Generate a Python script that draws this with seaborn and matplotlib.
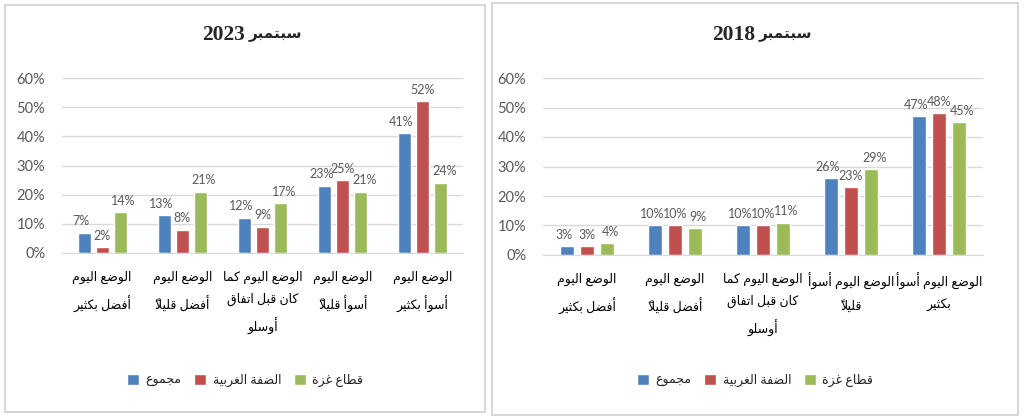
import pandas as pd
import matplotlib.pyplot as plt
import seaborn as sns
from matplotlib.patches import Rectangle, Patch

categories = [
    "الوضع اليوم أفضل بكثير",
    "الوضع اليوم أفضل قليلاً",
    "الوضع اليوم كما كان قبل اتفاق أوسلو",
    "الوضع اليوم أسوأ قليلاً",
    "الوضع اليوم أسوأ بكثير",
]
series = ["مجموع", "الضفة الغربية", "قطاع غزة"]
colors = ["#4F81BD", "#C0504D", "#9BBB59"]

total_2023 = [7, 13, 12, 23, 41]
west_bank_2023 = [2, 8, 9, 25, 52]
gaza_2023 = [14, 21, 17, 21, 24]

total_2018 = [3, 10, 10, 26, 47]
west_bank_2018 = [3, 10, 10, 23, 48]
gaza_2018 = [4, 9, 11, 29, 45]

ticks_2023 = [
    "الوضع اليوم\nأفضل بكثير",
    "الوضع اليوم\nأفضل قليلاً",
    "الوضع اليوم كما\nكان قبل اتفاق\nأوسلو",
    "الوضع اليوم\nأسوأ قليلاً",
    "الوضع اليوم\nأسوأ بكثير",
]
ticks_2018 = [
    "الوضع اليوم\nأفضل بكثير",
    "الوضع اليوم\nأفضل قليلاً",
    "الوضع اليوم كما\nكان قبل اتفاق\nأوسلو",
    "الوضع اليوم أسوأ\nقليلاً",
    "الوضع اليوم أسوأ\nبكثير",
]

# matplotlib does no arabic shaping or bidi, so pick the joined forms by hand
# isolated, final, initial, medial
FORMS = {
    'ا': ('\uFE8D', '\uFE8E', None, None),
    'أ': ('\uFE83', '\uFE84', None, None),
    'ب': ('\uFE8F', '\uFE90', '\uFE91', '\uFE92'),
    'ة': ('\uFE93', '\uFE94', None, None),
    'ت': ('\uFE95', '\uFE96', '\uFE97', '\uFE98'),
    'ث': ('\uFE99', '\uFE9A', '\uFE9B', '\uFE9C'),
    'ج': ('\uFE9D', '\uFE9E', '\uFE9F', '\uFEA0'),
    'ر': ('\uFEAD', '\uFEAE', None, None),
    'ز': ('\uFEAF', '\uFEB0', None, None),
    'س': ('\uFEB1', '\uFEB2', '\uFEB3', '\uFEB4'),
    'ض': ('\uFEBD', '\uFEBE', '\uFEBF', '\uFEC0'),
    'ط': ('\uFEC1', '\uFEC2', '\uFEC3', '\uFEC4'),
    'ع': ('\uFEC9', '\uFECA', '\uFECB', '\uFECC'),
    'غ': ('\uFECD', '\uFECE', '\uFECF', '\uFED0'),
    'ف': ('\uFED1', '\uFED2', '\uFED3', '\uFED4'),
    'ق': ('\uFED5', '\uFED6', '\uFED7', '\uFED8'),
    'ك': ('\uFED9', '\uFEDA', '\uFEDB', '\uFEDC'),
    'ل': ('\uFEDD', '\uFEDE', '\uFEDF', '\uFEE0'),
    'م': ('\uFEE1', '\uFEE2', '\uFEE3', '\uFEE4'),
    'ن': ('\uFEE5', '\uFEE6', '\uFEE7', '\uFEE8'),
    'و': ('\uFEED', '\uFEEE', None, None),
    'ي': ('\uFEF1', '\uFEF2', '\uFEF3', '\uFEF4'),
}
LAM_ALEF = {'ا': ('\uFEFB', '\uFEFC', None, None),
            'أ': ('\uFEF7', '\uFEF8', None, None)}
MARKS = set('\u064B\u064C\u064D\u064E\u064F\u0650\u0651\u0652')


def shape(text):
    lines = []
    for line in text.split('\n'):
        clusters = []
        i = 0
        while i < len(line):
            c = line[i]
            if c in MARKS and clusters:
                clusters[-1][2] += c
            elif c == 'ل' and line[i + 1:i + 2] in LAM_ALEF:
                clusters.append([LAM_ALEF[line[i + 1]], c, ''])
                i += 1
            else:
                clusters.append([FORMS.get(c), c, ''])
            i += 1
        glyphs = []
        for k, (forms, c, marks) in enumerate(clusters):
            if forms is None:
                glyphs.append(marks + c)
                continue
            prev = clusters[k - 1][0] if k > 0 else None
            nxt = clusters[k + 1][0] if k + 1 < len(clusters) else None
            jp = prev is not None and prev[2] is not None
            jn = nxt is not None and forms[2] is not None
            if jp and jn:
                g = forms[3]
            elif jp:
                g = forms[1]
            elif jn:
                g = forms[2]
            else:
                g = forms[0]
            # marks go first: drawn left to right they then sit over the base
            glyphs.append(marks + g)
        lines.append(''.join(reversed(glyphs)))
    return '\n'.join(lines)


sns.set_style("white")
plt.rcParams['font.family'] = ['Lato', 'DejaVu Sans']

fig = plt.figure(figsize=(10.24, 4.2), dpi=100)

# panel frames
fig.patches.append(Rectangle((5 / 1024, 1 - 412 / 420), 480 / 1024, 407 / 420,
                             transform=fig.transFigure, fill=False,
                             edgecolor="#D0D0D0", lw=1.2))
fig.patches.append(Rectangle((492 / 1024, 1 - 415 / 420), 526 / 1024, 412 / 420,
                             transform=fig.transFigure, fill=False,
                             edgecolor="#D0D0D0", lw=1.2))

panels = [
    ("2023", [total_2023, west_bank_2023, gaza_2023], ticks_2023,
     [62 / 1024, 1 - 253 / 420, 401 / 1024, 175 / 420], 245 / 1024),
    ("2018", [total_2018, west_bank_2018, gaza_2018], ticks_2018,
     [543 / 1024, 1 - 255 / 420, 440 / 1024, 177 / 420], 755 / 1024),
]

for year, vals, ticks, rect, cx in panels:
    rows = []
    for s, v in zip(series, vals):
        for c, x in zip(categories, v):
            rows.append({"category": c, "series": s, "value": x})
    df = pd.DataFrame(rows)

    ax = fig.add_axes(rect)
    sns.barplot(data=df, x="category", y="value", hue="series",
                order=categories, hue_order=series, palette=colors,
                width=0.675, gap=0.28, saturation=1, legend=False, ax=ax)

    for cont, dx in zip(ax.containers, [-2.5, 0, 2.5]):
        anns = ax.bar_label(cont, labels=[f"{b.get_height():.0f}%" for b in cont],
                            padding=4, fontsize=9, color="#595959")
        for a in anns:
            a.xyann = (dx, a.xyann[1])

    ax.set_ylim(0, 60)
    ax.set_yticks(range(0, 61, 10))
    ax.set_yticklabels([f"{t}%" for t in range(0, 61, 10)],
                       fontsize=10.5, color="#595959")
    ax.set_xticks(range(len(categories)))
    ax.set_xticklabels([shape(t) for t in ticks], fontsize=9,
                       color="black", linespacing=1.85)
    ax.tick_params(axis="y", length=0, pad=12)
    ax.tick_params(axis="x", length=0, pad=13)
    ax.set_xlabel("")
    ax.set_ylabel("")
    ax.grid(axis="y", color="#D9D9D9", lw=1)
    ax.set_axisbelow(True)
    for side in ["top", "right", "left"]:
        ax.spines[side].set_visible(False)
    ax.spines["bottom"].set_color("#D9D9D9")

    fig.text(cx, 1 - 35 / 420, year, ha="right", va="center",
             fontsize=15.5, fontweight="bold", family="Liberation Serif")
    fig.text(cx + 4 / 1024, 1 - 35 / 420, shape("سبتمبر"), ha="left",
             va="center", fontsize=11, fontweight="bold", family="DejaVu Sans")

    handles = [Patch(facecolor=col) for col in colors]
    fig.legend(handles, [shape(s) for s in series], loc="center",
               bbox_to_anchor=(cx, 1 - 380 / 420), ncol=3, frameon=False,
               fontsize=9, handlelength=1.0, handleheight=1.0,
               handletextpad=0.5, columnspacing=1.0)

fig.savefig("out.png", dpi=100, facecolor="white")
